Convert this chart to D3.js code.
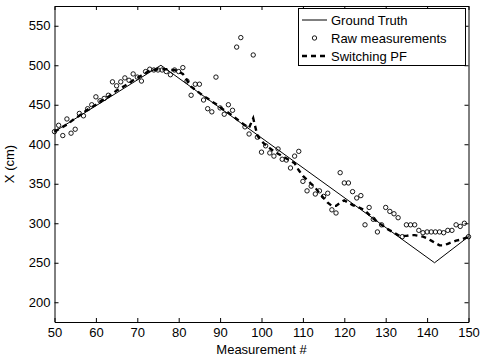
<!DOCTYPE html>
<html>
<head>
<meta charset="utf-8">
<script src="https://cdn.jsdelivr.net/npm/d3@7"></script>
<style>
body { margin: 0; background: #fff; }
text { font-family: "Liberation Sans", Arial, sans-serif; }
</style>
</head>
<body>
<div class="container"></div>
<script>

var width = 482;
var height = 360;

// measurement index 50..150
var measurements = d3.range(50, 151);

var rawValues = [
  416, 424, 411, 432, 414, 419, 439, 436, 445, 450,
  460, 455, 458, 462, 479, 474, 479, 484, 481, 489,
  485, 480, 492, 495, 494, 494, 494, 492, 488, 494,
  492, 497, 480, 462, 476, 476, 456, 445, 441, 485,
  446, 438, 450, 443, 523, 535, 422, 413, 513, 409,
  390, 398, 389, 385, 394, 381, 380, 370, 385, 391,
  353, 341, 347, 337, 341, 334, 338, 317, 313, 364,
  351, 351, 340, 332, 335, 298, 320, 305, 289, 298,
  320, 315, 312, 307, 283, 298, 298, 298, 291, 288,
  289, 289, 289, 289, 288, 291, 291, 298, 296, 300,
  283
];

// switching PF estimate, one per index
var pfValues = [
  416, 419, 422, 425, 429, 433, 436, 440, 444, 447,
  450, 454, 457, 460, 464, 468, 471, 474, 477, 481,
  484, 487, 490, 493, 494, 495, 495, 495, 494, 494,
  492, 489, 481, 473, 469, 465, 461, 458, 454, 451,
  447, 443, 440, 436, 432, 428, 424, 421, 433, 411,
  404, 399, 395, 391, 388, 385, 382, 379, 376, 367,
  360, 355, 350, 345, 338, 332, 326, 322, 322, 326,
  329, 326, 323, 321, 319, 316, 311, 306, 302, 298,
  294, 291, 288, 285, 284, 284, 285, 285, 284, 283,
  281, 278, 275, 272, 272, 274, 276, 278, 279, 281,
  283
];

// ground truth corner points
var truthX = [50, 75.7, 141.8, 150];
var truthY = [416, 500, 250, 283];

var xTicks = [50, 60, 70, 80, 90, 100, 110, 120, 130, 140, 150];
var yTicks = [200, 250, 300, 350, 400, 450, 500, 550];

var legendLabels = ["Ground Truth", "Raw measurements", "Switching PF"];

var margin = { left: 54.5, right: 13.5, top: 6, bottom: 38 };

var x = d3.scaleLinear().domain([50, 150]).range([margin.left, width - margin.right]);
var y = d3.scaleLinear().domain([175, 575]).range([height - margin.bottom, margin.top]);

var svg = d3.select(".container")
            .append("svg")
                .attr("width", width)
                .attr("height", height);

svg.append("rect")
   .attr("width", width)
   .attr("height", height)
   .attr("fill", "#fff");

var x0 = x.range()[0], x1 = x.range()[1];
var y0 = y.range()[0], y1 = y.range()[1];

// axes, ticks pointing inward on all four sides
svg.append("g")
   .attr("transform", "translate(0," + y0 + ")")
   .call(d3.axisBottom(x).tickValues(xTicks).tickSizeInner(-4).tickSizeOuter(0).tickPadding(6))
   .call(styleAxis);

svg.append("g")
   .attr("transform", "translate(0," + y1 + ")")
   .call(d3.axisTop(x).tickValues(xTicks).tickSizeInner(-4).tickSizeOuter(0).tickFormat(""))
   .call(styleAxis);

svg.append("g")
   .attr("transform", "translate(" + x0 + ",0)")
   .call(d3.axisLeft(y).tickValues(yTicks).tickSizeInner(-4).tickSizeOuter(0).tickPadding(4))
   .call(styleAxis);

svg.append("g")
   .attr("transform", "translate(" + x1 + ",0)")
   .call(d3.axisRight(y).tickValues(yTicks).tickSizeInner(-4).tickSizeOuter(0).tickFormat(""))
   .call(styleAxis);

function styleAxis(g) {
    g.select(".domain").attr("stroke", "#000").attr("stroke-width", 1);
    g.selectAll(".tick line").attr("stroke", "#000");
    g.selectAll(".tick text")
     .attr("fill", "#000")
     .style("font-size", "13px")
     .style("font-family", "'Liberation Sans', Arial, sans-serif");
}

// axis titles
svg.append("text")
   .attr("x", (x0 + x1) / 2)
   .attr("y", 354)
   .attr("text-anchor", "middle")
   .style("font-size", "13px")
   .text("Measurement #");

svg.append("text")
   .attr("transform", "translate(14," + ((y0 + y1) / 2) + ") rotate(-90)")
   .attr("text-anchor", "middle")
   .style("font-size", "13px")
   .text("X (cm)");

var plot = svg.append("g");

// ground truth
var truthLine = d3.line()
                  .x(function(d) { return x(d[0]); })
                  .y(function(d) { return y(d[1]); });

plot.append("path")
    .datum(d3.zip(truthX, truthY))
    .attr("d", truthLine)
    .attr("fill", "none")
    .attr("stroke", "#000")
    .attr("stroke-width", 1);

// raw measurements
plot.selectAll("circle.raw")
    .data(d3.zip(measurements, rawValues))
    .enter().append("circle")
        .attr("class", "raw")
        .attr("cx", function(d) { return x(d[0]); })
        .attr("cy", function(d) { return y(d[1]); })
        .attr("r", 2.2)
        .attr("fill", "none")
        .attr("stroke", "#000")
        .attr("stroke-width", 0.9);

// switching PF
plot.append("path")
    .datum(d3.zip(measurements, pfValues))
    .attr("d", truthLine)
    .attr("fill", "none")
    .attr("stroke", "#000")
    .attr("stroke-width", 2.4)
    .attr("stroke-dasharray", "5,4");

// legend
var legend = svg.append("g");

legend.append("rect")
      .attr("x", 298.5)
      .attr("y", 8.5)
      .attr("width", 167)
      .attr("height", 57)
      .attr("fill", "#fff")
      .attr("stroke", "#000")
      .attr("stroke-width", 1);

var rowY = [20, 38, 56];

legend.append("line")
      .attr("x1", 302).attr("x2", 327)
      .attr("y1", rowY[0]).attr("y2", rowY[0])
      .attr("stroke", "#000").attr("stroke-width", 1);

legend.append("circle")
      .attr("cx", 314.5).attr("cy", rowY[1])
      .attr("r", 2.2)
      .attr("fill", "none").attr("stroke", "#000").attr("stroke-width", 0.9);

legend.append("line")
      .attr("x1", 302).attr("x2", 327)
      .attr("y1", rowY[2]).attr("y2", rowY[2])
      .attr("stroke", "#000").attr("stroke-width", 2.4)
      .attr("stroke-dasharray", "5,4");

legend.selectAll("text.lab")
      .data(legendLabels)
      .enter().append("text")
          .attr("class", "lab")
          .attr("x", 331)
          .attr("y", function(d, i) { return rowY[i]; })
          .attr("dy", "0.35em")
          .style("font-size", "13px")
          .text(function(d) { return d; });

</script>
</body>
</html>
